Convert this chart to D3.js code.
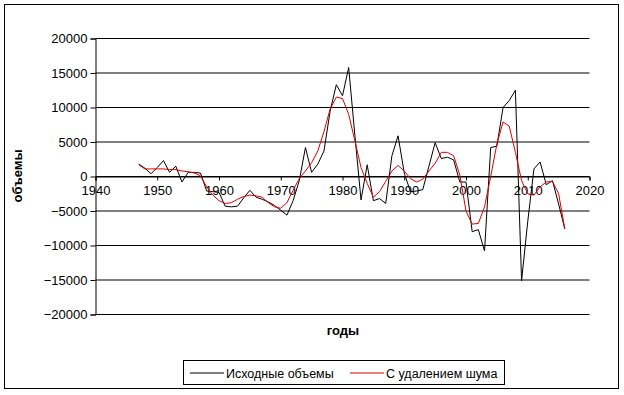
<!DOCTYPE html>
<html>
<head>
<meta charset="utf-8">
<script src="https://cdn.jsdelivr.net/npm/d3@7"></script>
<style>
  body { margin: 0; background: #fff; }
  svg { display: block; font-family: "Liberation Sans", Arial, sans-serif; }
</style>
</head>
<body>
<svg id="chart" width="624" height="395"></svg>
<script>
// годы наблюдений
const years = d3.range(1947, 2017);

// исходные объемы
const rawValues = [
  1800, 1200, 400, 1300, 2300, 600, 1500, -800, 600, 600,
  500, -2100, -2200, -2300, -4300, -4400, -4300, -3100, -2000, -3000,
  -3300, -3700, -4200, -4900, -5600, -3500, -600, 4200, 600, 1800,
  3700, 9500, 13300, 11700, 15800, 6000, -3400, 1700, -3500, -3200,
  -3900, 3000, 5900, 500, -2200, -2100, -1900, 1500, 4900, 2600,
  2800, 2400, -800, -800, -8000, -7700, -10800, 4200, 4400, 10000,
  11000, 12500, -15100, -6500, 1100, 2100, -1200, -600, -4000, -7600
];

// с удалением шума
const smoothValues = [
  1700, 1100, 1100, 1100, 1100, 1000, 1000, 800, 700, 500,
  100, -1500, -2700, -3500, -3900, -3800, -3300, -2900, -2700, -2800,
  -3000, -3800, -4400, -4600, -3800, -2000, -300, 800, 2000, 3700,
  6500, 9800, 11500, 11300, 9000, 5200, 1300, -1000, -3000, -2200,
  -700, 800, 1600, 800, -300, -800, -400, 800, 1900, 3500,
  3500, 3000, 200, -5000, -6900, -6800, -4400, 0, 4700, 7900,
  7300, 3500, -600, -2500, -2700, -1500, -800, -700, -2500, -7600
];

const yTicks = [-20000, -15000, -10000, -5000, 0, 5000, 10000, 15000, 20000];
const xTicks = [1940, 1950, 1960, 1970, 1980, 1990, 2000, 2010, 2020];

const seriesNames = ["Исходные объемы", "С удалением шума"];
const seriesColors = ["#000000", "#dd0000"];

const svg = d3.select("#chart");

// рамка вокруг диаграммы
svg.append("rect")
  .attr("x", 4.5).attr("y", 4.5)
  .attr("width", 614).attr("height", 384)
  .attr("fill", "#fff")
  .attr("stroke", "#000")
  .attr("stroke-width", 1);

const x = d3.scaleLinear().domain([1940, 2020]).range([95.5, 589.5]);
const y = d3.scaleLinear().domain([-20000, 20000]).range([314.5, 38.5]);

// горизонтальная сетка
svg.append("g")
  .selectAll("line")
  .data(yTicks)
  .join("line")
  .attr("x1", x(1940)).attr("x2", x(2020))
  .attr("y1", d => y(d)).attr("y2", d => y(d))
  .attr("stroke", "#000")
  .attr("stroke-width", 1);

// ось Y
const yAxis = svg.append("g")
  .attr("transform", `translate(${x(1940)},0)`)
  .call(d3.axisLeft(y).tickValues(yTicks).tickSize(5).tickPadding(3).tickFormat(d3.format("d")));
yAxis.select(".domain").attr("stroke", "#000");
yAxis.selectAll("text").attr("font-size", 13).attr("fill", "#000")
  .style("font-family", "Liberation Sans, Arial, sans-serif");

// ось X на нуле
const xAxis = svg.append("g")
  .attr("transform", `translate(0,${y(0)})`)
  .call(d3.axisBottom(x).tickValues(xTicks).tickSize(4).tickPadding(5).tickFormat(d3.format("d")));
xAxis.select(".domain").attr("stroke", "#000");
xAxis.selectAll("text").attr("font-size", 13).attr("fill", "#000")
  .style("font-family", "Liberation Sans, Arial, sans-serif");

// линии
const line = d3.line()
  .x((d, i) => x(years[i]))
  .y(d => y(d));

[rawValues, smoothValues].forEach((vals, k) => {
  svg.append("path")
    .datum(vals)
    .attr("fill", "none")
    .attr("stroke", seriesColors[k])
    .attr("stroke-width", 1)
    .attr("d", line);
});

// подписи осей
svg.append("text")
  .attr("x", 343).attr("y", 335)
  .attr("text-anchor", "middle")
  .attr("font-size", 13).attr("font-weight", "bold")
  .text("годы");

svg.append("text")
  .attr("transform", "translate(22,176) rotate(-90)")
  .attr("text-anchor", "middle")
  .attr("font-size", 13).attr("font-weight", "bold")
  .text("объемы");

// легенда
const legend = svg.append("g");
legend.append("rect")
  .attr("x", 183.5).attr("y", 360.5)
  .attr("width", 321).attr("height", 24)
  .attr("fill", "#fff").attr("stroke", "#000");

const legendX = [190, 350];
seriesNames.forEach((name, k) => {
  legend.append("line")
    .attr("x1", legendX[k]).attr("x2", legendX[k] + 34)
    .attr("y1", 373).attr("y2", 373)
    .attr("stroke", seriesColors[k]);
  legend.append("text")
    .attr("x", legendX[k] + 36).attr("y", 377.5)
    .attr("font-size", 12.5)
    .text(name);
});
</script>
</body>
</html>
